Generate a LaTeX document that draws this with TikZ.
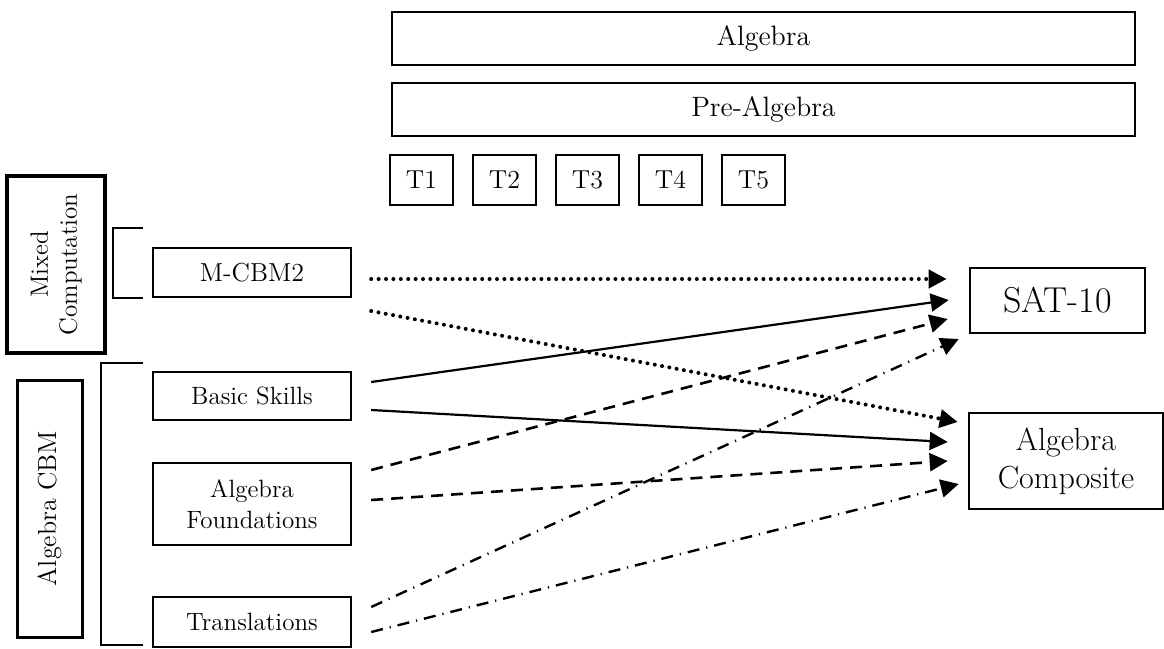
\documentclass[tikz,border=0pt]{standalone}
\usepackage{tikz}
\usetikzlibrary{arrows.meta,calc}

\tikzset{
  box/.style={draw, line width=1.2pt, inner sep=0pt, align=center},
  tbox/.style={box, minimum width=31.5pt, minimum height=25pt, font=\fontsize{13}{15}\selectfont},
  band/.style={box, line width=1.4pt, minimum width=371.5pt, minimum height=26.5pt, font=\fontsize{14}{16}\selectfont},
  measure/.style={box, minimum width=99pt, font=\fontsize{12.5}{15.5}\selectfont},
  outcome/.style={box, line width=1.3pt},
  brack/.style={line width=1.3pt},
  link/.style={line width=1.1pt, -{Triangle[length=9pt,width=9pt]}},
  dotlink/.style={link, line width=2pt, line cap=round, dash pattern=on 0pt off 3.7pt},
  dashlink/.style={link, line width=1.3pt, dash pattern=on 6pt off 4pt},
  dashdotlink/.style={link, line width=1.2pt, dash pattern=on 6pt off 3.5pt on 0.6pt off 3.5pt}
}

\begin{document}
\begin{tikzpicture}[x=0.5pt, y=-0.5pt]
  \useasboundingbox (0,0) rectangle (1164,649);
  %%%%%%%%%%%%%%%%%%%%%%%%%%%%%%%%
  \node[band] (alg) at (763.5,38.5) {Algebra};
  \node[band] (pre) at (763.5,109.5) {Pre-Algebra};
  \foreach \i in {1,...,5}
    \node[tbox] (t\i) at ({421.5+83*(\i-1)},180) {T\i};
  %%%%%%%%%%%%%%%%%%%%%%%%%%%%%%%%
  \node[box, line width=1.6pt, rotate=90, minimum width=88.5pt, minimum height=49pt,
        font=\fontsize{12.5}{14.5}\selectfont] (mix) at (56,264.5) {Mixed\\Computation};
  \node[box, line width=1.5pt, rotate=90, minimum width=128.5pt, minimum height=32.5pt,
        font=\fontsize{13}{15}\selectfont] (cbm) at (49.5,508.5) {Algebra CBM};
  \draw[brack] (143,228) -| (113,298) -- (143,298);
  \draw[brack] (143,363) -| (101,645) -- (143,645);
  %%%%%%%%%%%%%%%%%%%%%%%%%%%%%%%%
  \node[measure, minimum height=24.5pt, font=\fontsize{13}{15}\selectfont] (mcbm) at (252,272.5) {M-CBM2};
  \node[measure, minimum height=24pt] (basic) at (252,396) {Basic Skills};
  \node[measure, minimum height=41pt] (found) at (252,504) {Algebra\\Foundations};
  \node[measure, minimum height=25pt] (trans) at (252,622) {Translations};
  %%%%%%%%%%%%%%%%%%%%%%%%%%%%%%%%
  \node[outcome, minimum width=87.5pt, minimum height=32.5pt, font=\fontsize{18}{20}\selectfont] (sat) at (1057.5,300.5) {SAT-10};
  \node[outcome, minimum width=97pt, minimum height=48pt, font=\fontsize{16}{19}\selectfont] (comp) at (1066,461) {Algebra\\Composite};
  %%%%%%%%%%%%%%%%%%%%%%%%%%%%%%%%
  \draw[dotlink] ($(mcbm.east)+(19,6.5)$) -- ($(sat.west)+(-22,-21.5)$);
  \draw[dotlink] ($(mcbm.east)+(19,38.5)$) -- ($(comp.west)+(-10,-39)$);
  \draw[link] ($(basic.east)+(19,-14)$) -- ($(sat.west)+(-20,-0.5)$);
  \draw[link] ($(basic.east)+(19,14)$) -- ($(comp.west)+(-20,-19)$);
  \draw[dashlink] ($(found.east)+(19,-34)$) -- ($(sat.west)+(-21,18.5)$);
  \draw[dashlink] ($(found.east)+(19,-4)$) -- ($(comp.west)+(-20,0)$);
  \draw[dashdotlink] ($(trans.east)+(19,-15)$) -- ($(sat.west)+(-10,38.5)$);
  \draw[dashdotlink] ($(trans.east)+(19,10)$) -- ($(comp.west)+(-9,23)$);
\end{tikzpicture}
\end{document}
